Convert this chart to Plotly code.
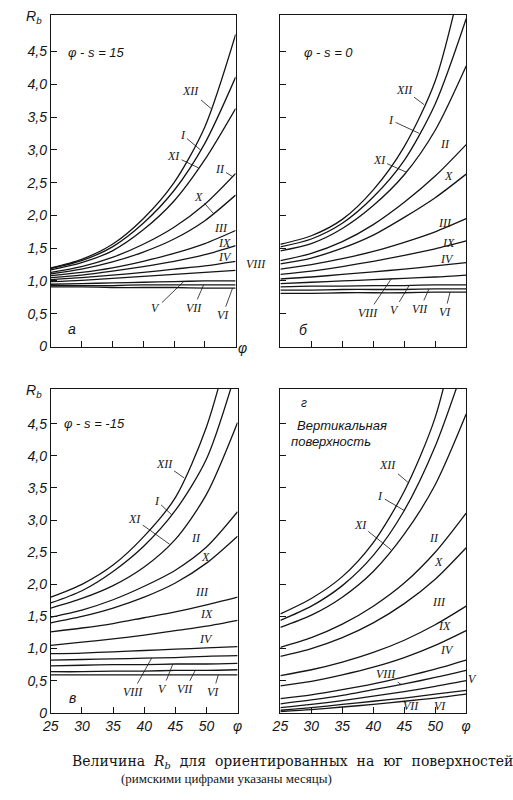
import numpy as np
import plotly.graph_objects as go

W, H = 513, 800

# latitude axis and the tick labels
PHI = [25, 30, 35, 40, 45, 50, 55]
PHI_TEXT = ["25", "30", "35", "40", "45", "50", "φ"]
RB_TICKS = [0, 0.5, 1.0, 1.5, 2.0, 2.5, 3.0, 3.5, 4.0, 4.5]
RB_TEXT = ["0", "0,5", "1,0", "1,5", "2,0", "2,5", "3,0", "3,5", "4,0", "4,5"]

MONTHS = ["XII", "I", "XI", "II", "X", "III", "IX", "IV", "VIII", "V", "VII", "VI"]

# a) phi - s = 15
RB_A = [
    [1.20, 1.33, 1.56, 1.95, 2.50, 3.35, 4.76],
    [1.19, 1.31, 1.52, 1.88, 2.38, 3.10, 4.11],
    [1.17, 1.28, 1.46, 1.78, 2.22, 2.85, 3.63],
    [1.13, 1.22, 1.36, 1.56, 1.82, 2.17, 2.64],
    [1.11, 1.18, 1.29, 1.44, 1.64, 1.92, 2.31],
    [1.08, 1.13, 1.20, 1.30, 1.42, 1.57, 1.77],
    [1.05, 1.09, 1.15, 1.22, 1.30, 1.40, 1.54],
    [1.02, 1.05, 1.09, 1.13, 1.18, 1.23, 1.30],
    [0.99, 1.01, 1.04, 1.07, 1.10, 1.13, 1.16],
    [0.95, 0.96, 0.97, 0.98, 0.99, 1.00, 1.00],
    [0.93, 0.93, 0.93, 0.94, 0.94, 0.94, 0.94],
    [0.91, 0.91, 0.90, 0.90, 0.90, 0.89, 0.89],
]

# б) phi - s = 0
RB_B = [
    [1.56, 1.69, 1.94, 2.39, 3.05, 4.05, 5.90],
    [1.52, 1.64, 1.88, 2.28, 2.84, 3.70, 5.00],
    [1.46, 1.57, 1.80, 2.15, 2.62, 3.30, 4.28],
    [1.31, 1.42, 1.60, 1.86, 2.20, 2.60, 3.08],
    [1.26, 1.35, 1.50, 1.70, 1.97, 2.27, 2.63],
    [1.18, 1.25, 1.34, 1.45, 1.59, 1.75, 1.95],
    [1.10, 1.15, 1.22, 1.30, 1.39, 1.49, 1.61],
    [1.03, 1.06, 1.10, 1.14, 1.18, 1.23, 1.28],
    [0.96, 0.98, 1.00, 1.02, 1.04, 1.06, 1.09],
    [0.91, 0.92, 0.92, 0.93, 0.93, 0.94, 0.94],
    [0.86, 0.86, 0.87, 0.87, 0.87, 0.88, 0.88],
    [0.81, 0.81, 0.82, 0.82, 0.82, 0.83, 0.83],
]

# в) phi - s = -15
RB_V = [
    [1.80, 2.00, 2.30, 2.75, 3.35, 4.45, 6.20],
    [1.71, 1.90, 2.20, 2.60, 3.15, 3.95, 5.40],
    [1.63, 1.78, 1.98, 2.27, 2.70, 3.40, 4.52],
    [1.49, 1.60, 1.76, 1.97, 2.22, 2.58, 3.13],
    [1.40, 1.50, 1.63, 1.80, 2.02, 2.33, 2.75],
    [1.26, 1.32, 1.39, 1.48, 1.57, 1.68, 1.80],
    [1.05, 1.10, 1.15, 1.21, 1.28, 1.35, 1.44],
    [0.92, 0.93, 0.95, 0.97, 0.99, 1.01, 1.03],
    [0.82, 0.83, 0.84, 0.85, 0.86, 0.88, 0.89],
    [0.73, 0.74, 0.75, 0.75, 0.76, 0.76, 0.77],
    [0.64, 0.64, 0.65, 0.65, 0.66, 0.66, 0.67],
    [0.59, 0.59, 0.59, 0.59, 0.59, 0.59, 0.59],
]

# г) vertical surface
RB_G = [
    [1.54, 1.78, 2.12, 2.65, 3.45, 4.60, 6.60],
    [1.44, 1.66, 1.98, 2.45, 3.15, 4.15, 5.50],
    [1.33, 1.52, 1.80, 2.20, 2.78, 3.55, 4.65],
    [1.02, 1.17, 1.38, 1.66, 2.02, 2.50, 3.11],
    [0.88, 1.00, 1.17, 1.40, 1.70, 2.08, 2.57],
    [0.58, 0.67, 0.79, 0.94, 1.13, 1.37, 1.66],
    [0.42, 0.49, 0.59, 0.71, 0.86, 1.05, 1.28],
    [0.22, 0.28, 0.36, 0.45, 0.56, 0.68, 0.82],
    [0.14, 0.20, 0.27, 0.36, 0.45, 0.55, 0.66],
    [0.08, 0.13, 0.19, 0.26, 0.33, 0.41, 0.50],
    [0.04, 0.08, 0.13, 0.18, 0.23, 0.29, 0.35],
    [0.02, 0.05, 0.09, 0.13, 0.18, 0.23, 0.29],
]

# month labels: leaders (month, phi at tip, dx, dy in px) and free labels (month, px x, px y)
LEAD_A = [("XII", 51.0, -20, -17), ("I", 49.3, -18, -15), ("XI", 49.0, -25, -12),
          ("II", 54.5, -13, -8), ("X", 51.4, -15, -17),
          ("V", 46.6, -28, 27), ("VII", 49.8, -10, 23), ("VI", 54.5, -10, 27)]
FREE_A = [("III", 218, 230), ("IX", 222, 245), ("IV", 222, 260), ("VIII", 254, 267)]

LEAD_B = [("XII", 48.2, -20, -15), ("I", 47.4, -28, -13), ("XI", 45.3, -27, -12),
          ("VIII", 42.9, -23, 34), ("V", 45.8, -15, 25), ("VII", 49.0, -9, 20),
          ("VI", 52.4, -5, 20)]
FREE_B = [("II", 448, 145), ("X", 452, 178), ("III", 448, 225), ("IX", 452, 245),
          ("IV", 450, 262)]

LEAD_V = [("XII", 46.4, -20, -14), ("I", 44.4, -15, -14), ("XI", 44.1, -35, -25),
          ("VIII", 41.2, -19, 34), ("V", 44.6, -10, 25), ("VII", 48.2, -10, 19),
          ("VI", 51.9, -5, 17)]
FREE_V = [("II", 192, 543), ("X", 202, 563), ("III", 198, 598), ("IX", 203, 620),
          ("IV", 203, 645)]

LEAD_G = [("XII", 45.6, -20, -17), ("I", 45.0, -24, -14), ("XI", 42.9, -31, -25),
          ("VIII", 44.5, -15, -10)]
FREE_G = [("II", 437, 543), ("X", 442, 568), ("III", 442, 608), ("IX", 448, 632),
          ("IV", 450, 657), ("V", 477, 686), ("VII", 413, 713), ("VI", 443, 713)]

# panel boxes in px: left, right, top, bottom
panels = [
    dict(box=(43, 233, 15, 350), rb=RB_A, ymax=5.06, lead=LEAD_A, free=FREE_A,
         ylab=True, xlab=False),
    dict(box=(279, 470, 15, 350), rb=RB_B, ymax=5.06, lead=LEAD_B, free=FREE_B,
         ylab=False, xlab=False),
    dict(box=(43, 235, 393, 720), rb=RB_V, ymax=5.04, lead=LEAD_V, free=FREE_V,
         ylab=True, xlab=True),
    dict(box=(279, 470, 393, 720), rb=RB_G, ymax=5.04, lead=LEAD_G, free=FREE_G,
         ylab=False, xlab=True),
]

INK = "#151515"
SERIF = "Liberation Serif"
SANS = "Liberation Sans"


def paper(x, y):
    return x / W, 1 - y / H


def label(txt, x, y, size, family, xanchor="center"):
    # text placed by its pixel position on the page
    px_, py_ = paper(x, y)
    return dict(x=px_, y=py_, xref="paper", yref="paper", text=txt, showarrow=False,
                xanchor=xanchor, yanchor="middle",
                font=dict(family=family, size=size, color=INK))


fig = go.Figure()
layout = {}
annotations = []

for i, p in enumerate(panels):
    n = "" if i == 0 else str(i + 1)
    l, r, t, b = p["box"]

    for m, vals in zip(MONTHS, p["rb"]):
        fig.add_trace(go.Scatter(
            x=PHI, y=vals, mode="lines", name=m, xaxis="x" + n, yaxis="y" + n,
            line=dict(color=INK, width=1.3, shape="spline", smoothing=0.8),
            showlegend=False, hoverinfo="skip"))

    xtext = ["<i>%s</i>" % s for s in PHI_TEXT] if p["xlab"] else [""] * len(PHI)
    layout["xaxis" + n] = dict(
        domain=[l / W, r / W], range=[25, 55], anchor="y" + n,
        showline=True, mirror=True, linecolor=INK, linewidth=1, showgrid=False,
        zeroline=False, ticks="inside", ticklen=6, tickcolor=INK,
        tickvals=PHI, ticktext=xtext, tickfont=dict(family=SANS, size=14, color=INK))
    layout["yaxis" + n] = dict(
        domain=[1 - b / H, 1 - t / H], range=[0, p["ymax"]], anchor="x" + n,
        showline=True, mirror=True, linecolor=INK, linewidth=1, showgrid=False,
        zeroline=False, ticks="inside", ticklen=6, tickcolor=INK,
        tickvals=RB_TICKS,
        ticktext=["<i>%s</i>" % s for s in RB_TEXT] if p["ylab"] else [""] * len(RB_TICKS),
        tickfont=dict(family=SANS, size=14, color=INK))

    # month labels with leader lines
    for m, phi_tip, dx, dy in p["lead"]:
        vals = p["rb"][MONTHS.index(m)]
        annotations.append(dict(
            x=phi_tip, y=float(np.interp(phi_tip, PHI, vals)), xref="x" + n, yref="y" + n,
            text="<i>%s</i>" % m, showarrow=True, arrowhead=0, arrowwidth=0.8,
            arrowcolor=INK, ax=dx, ay=dy, standoff=0,
            font=dict(family=SERIF, size=12, color=INK)))
    for m, x, y in p["free"]:
        annotations.append(label("<i>%s</i>" % m, x, y, 12, SERIF))

# panel texts
texts = [
    ("<i>φ - s = 15</i>", 90, 53, 13),
    ("<i>φ - s = 0</i>", 328, 53, 13),
    ("<i>φ - s = -15</i>", 88, 428, 13),
    ("<i>а</i>", 65, 332, 14),
    ("<i>б</i>", 303, 333, 14),
    ("<i>в</i>", 65, 705, 14),
    ("<i>г</i>", 303, 407, 12),
    ("<i>Вертикальная</i>", 342, 430, 13),
    ("<i>поверхность</i>", 331, 446, 13),
    ("<i>R<sub>b</sub></i>", 26, 17, 14),
    ("<i>R<sub>b</sub></i>", 26, 395, 14),
    ("<i>φ</i>", 240, 352, 14),
]
for txt, x, y, size in texts:
    annotations.append(label(txt, x, y, size, SANS))

# caption
GAP = "&nbsp;&nbsp;"
line1 = GAP.join(["Величина", "<i>R<sub>b</sub></i>", "для", "ориентированных",
                  "на", "юг", "поверхностей"])
annotations.append(label(line1, 63, 770, 14, "DejaVu Serif", xanchor="left"))
annotations.append(label("(римскими цифрами указаны месяцы)", 113, 786, 13,
                         SERIF, xanchor="left"))

fig.update_layout(
    width=W, height=H, margin=dict(l=0, r=0, t=0, b=0),
    paper_bgcolor="white", plot_bgcolor="white",
    annotations=annotations, **layout)

fig.write_html("out.html", config={"displayModeBar": False},
               post_script="document.body.style.margin='0';")
